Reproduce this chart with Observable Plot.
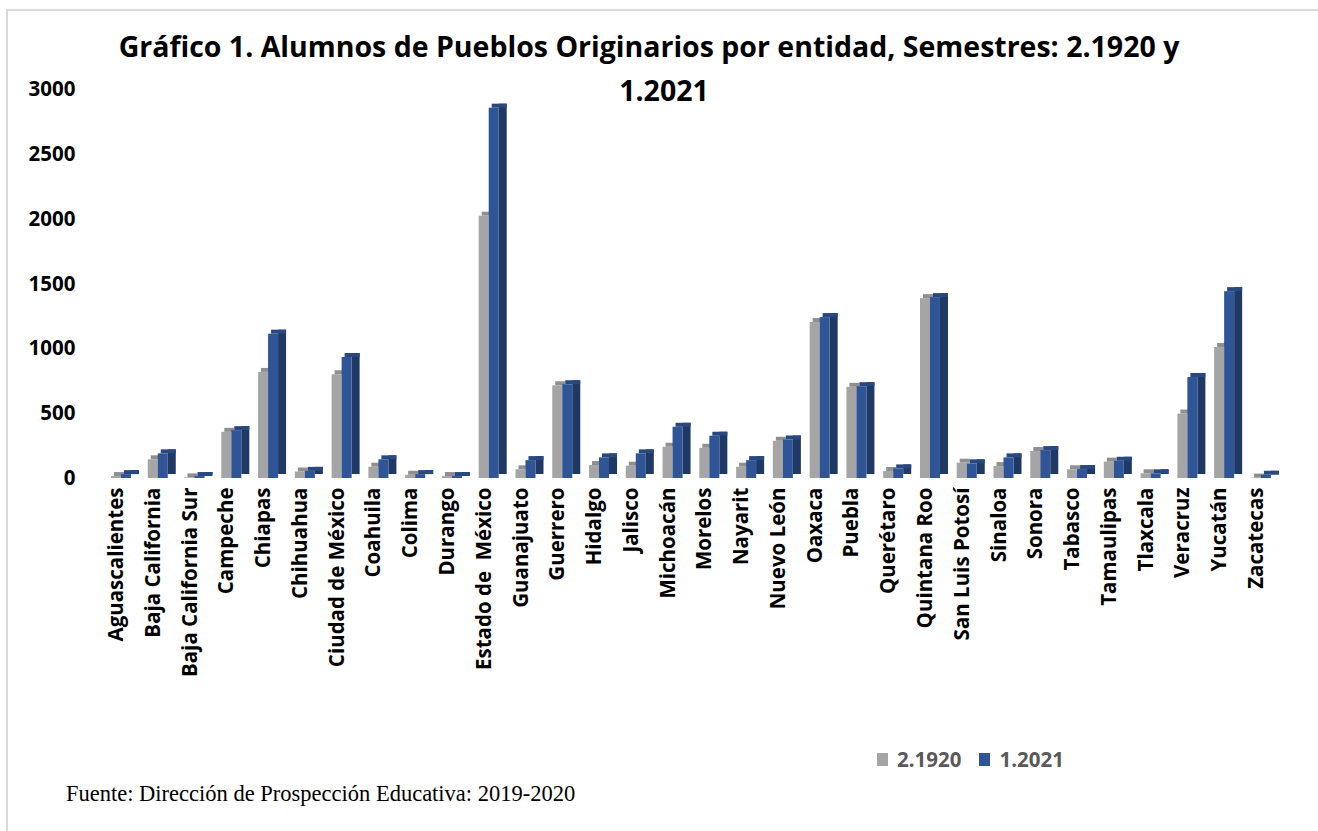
<!DOCTYPE html>
<html>
<head>
<meta charset="utf-8">
<script src="https://cdn.jsdelivr.net/npm/d3@7"></script>
<script src="https://cdn.jsdelivr.net/npm/@observablehq/plot@0.6"></script>
<style>
  html, body { margin: 0; padding: 0; background: #fff; }
  #wrap { position: relative; width: 1318px; height: 831px; overflow: hidden; font-family: "Open Sans", sans-serif; }
  #frame { position: absolute; left: 6px; top: 9px; width: 1400px; height: 900px; border-top: 2px solid #d9d9d9; border-left: 2px solid #d9d9d9; }
  #chart { position: absolute; left: 0; top: 0; }
  #title { position: absolute; left: -10px; top: 24px; width: 1318px; text-align: center; font-weight: 700; font-size: 28.5px; line-height: 44px; color: #000; }
  #title .l1 { display: block; padding-left: 0px; }
  #title .l2 { display: block; padding-left: 30px; }
  #legend { position: absolute; left: 877px; top: 745px; font-weight: 700; font-size: 20.5px; color: #595959; display: flex; align-items: center; }
  #legend .sw { display: inline-block; width: 11px; height: 13px; margin-right: 9px; }
  #legend .item { display: flex; align-items: center; margin-right: 18px; }
  #caption { position: absolute; left: 66px; top: 781px; font-family: "Liberation Serif", serif; font-size: 22.5px; color: #000; }
</style>
</head>
<body>
<div id="wrap">
  <div id="frame"></div>
  <div id="chart"></div>
  <div id="title"><span class="l1">Gráfico 1. Alumnos de Pueblos Originarios por entidad, Semestres: 2.1920 y</span><span class="l2">1.2021</span></div>
  <div id="legend"></div>
  <div id="caption">Fuente: Dirección de Prospección Educativa: 2019-2020</div>
</div>
<script>
const states = ["Aguascalientes","Baja California","Baja California Sur","Campeche","Chiapas","Chihuahua","Ciudad de México","Coahuila","Colima","Durango","Estado de  México","Guanajuato","Guerrero","Hidalgo","Jalisco","Michoacán","Morelos","Nayarit","Nuevo León","Oaxaca","Puebla","Querétaro","Quintana Roo","San Luis Potosí","Sinaloa","Sonora","Tabasco","Tamaulipas","Tlaxcala","Veracruz","Yucatán","Zacatecas"];
const v1920 = [15,144,5,356,818,50,800,87,25,15,2023,67,715,100,95,241,233,87,287,1203,703,54,1387,118,92,208,67,126,36,497,1010,3];
const v2021 = [30,190,15,369,1113,55,933,144,30,15,2856,138,723,159,190,395,326,138,297,1241,708,74,1395,113,159,215,69,133,36,779,1441,25];
const seriesNames = ["2.1920","1.2021"];
const yTicks = [0,500,1000,1500,2000,2500,3000];
const colors = {gray: "#a5a5a5", grayTop: "#8f8f8f", blue: "#2f5597", blueSide: "#203864", blueTop: "#28487f"};

const d1920 = states.map((s, i) => ({state: s, value: v1920[i]}));
const d2021 = states.map((s, i) => ({state: s, value: v2021[i]}));

const W = 1318, H = 720;
const mL = 97.6, mR = 43.7;
const bw = (W - mL - mR) / states.length; // band width in px
const h = bw / 2;

const chart = Plot.plot({
  width: W,
  height: H,
  marginTop: 89,
  marginBottom: H - 478,
  marginLeft: mL,
  marginRight: mR,
  style: {fontFamily: "Open Sans, sans-serif", fontWeight: 700, fontSize: "20.5px", color: "#000", background: "transparent"},
  x: {domain: states, padding: 0, round: false, label: null, tickSize: 0, tickPadding: 9, tickRotate: -90},
  y: {domain: [0, 3000], ticks: yTicks, tickFormat: d3.format("d"), label: null, tickSize: 0, tickPadding: 22.6},
  marks: [
    // gray top face
    Plot.barY(d1920, {x: "state", y1: "value", y2: "value", insetTop: -4, insetLeft: h - 5 + 3, insetRight: h - 8, fill: colors.grayTop}),
    // gray front face
    Plot.barY(d1920, {x: "state", y: "value", insetLeft: h - 5, insetRight: h - 5, fill: colors.gray}),
    // blue side face
    Plot.barY(d2021, {x: "state", y: "value", insetLeft: h + 15, insetRight: h - 23, dy: -4, fill: colors.blueSide}),
    // blue top face
    Plot.barY(d2021, {x: "state", y1: "value", y2: "value", insetTop: -4, insetLeft: h + 5 + 3, insetRight: h - 23, fill: colors.blueTop}),
    // blue front face
    Plot.barY(d2021, {x: "state", y: "value", insetLeft: h + 5, insetRight: h - 15, fill: colors.blue})
  ]
});
document.getElementById("chart").appendChild(chart);

const legend = document.getElementById("legend");
[[seriesNames[0], colors.gray], [seriesNames[1], colors.blue]].forEach(([name, c]) => {
  const item = document.createElement("span");
  item.className = "item";
  const sw = document.createElement("span");
  sw.className = "sw";
  sw.style.background = c;
  item.appendChild(sw);
  item.appendChild(document.createTextNode(name));
  legend.appendChild(item);
});
</script>
</body>
</html>
